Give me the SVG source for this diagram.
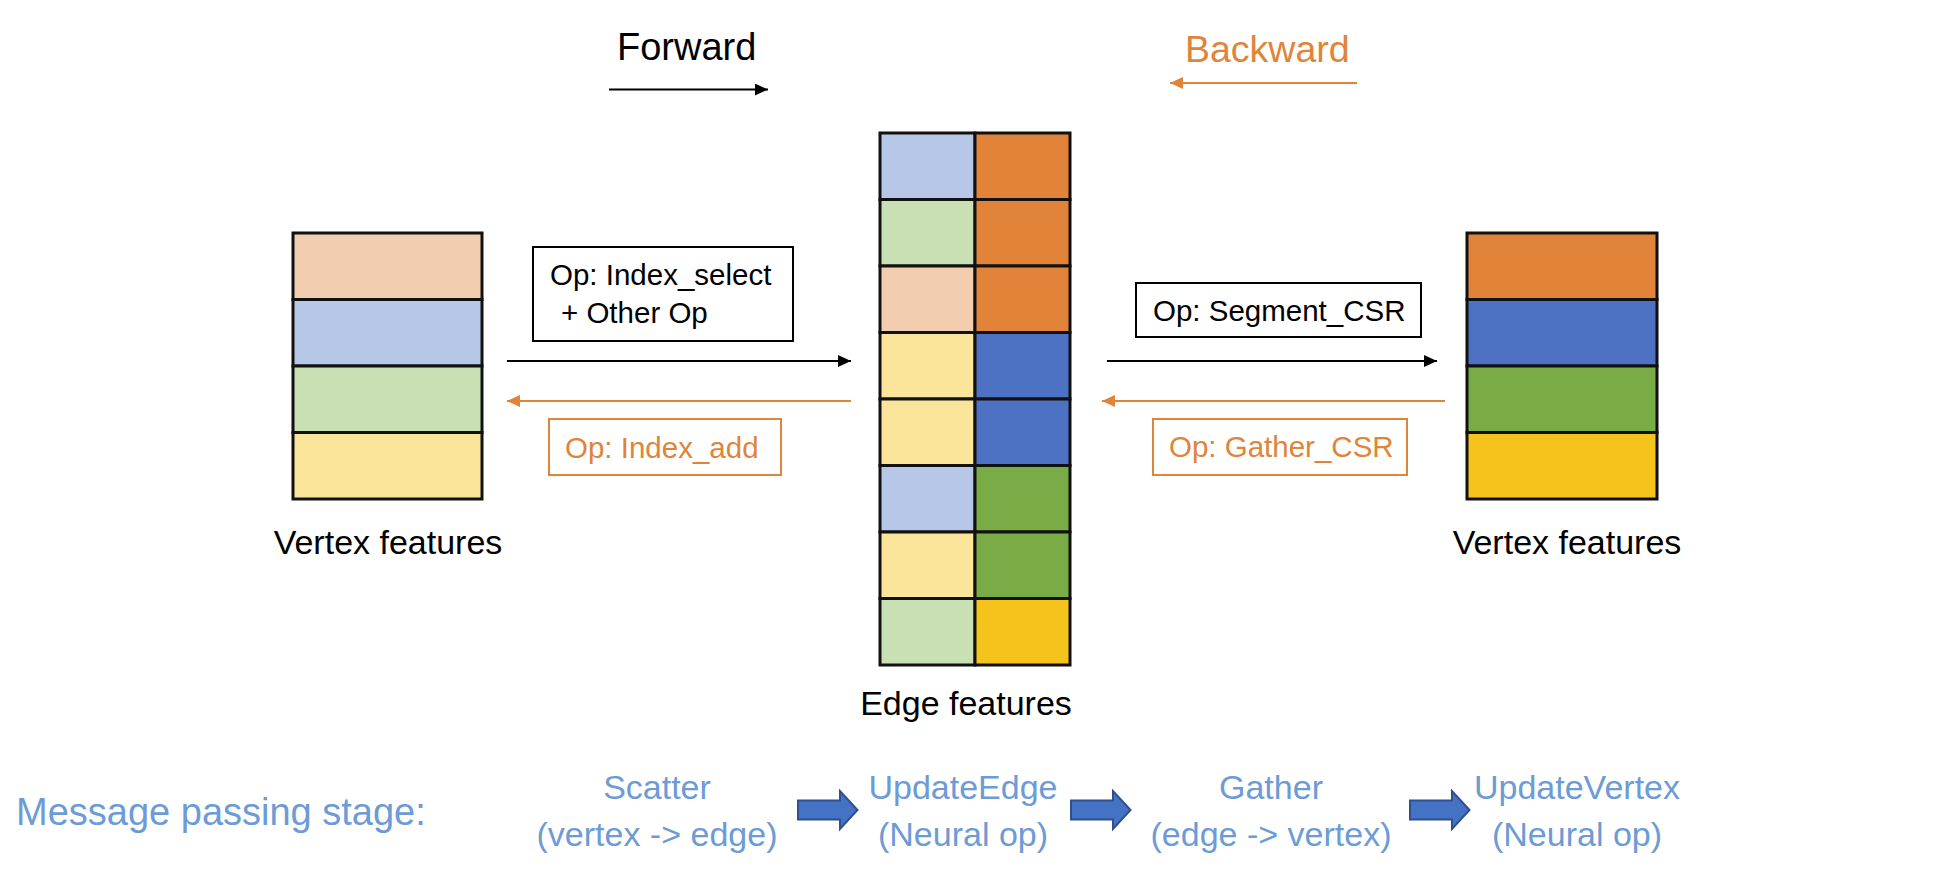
<svg xmlns="http://www.w3.org/2000/svg" width="1940" height="878" viewBox="0 0 1940 878">
<defs>
<style>
text{font-family:"Liberation Sans",Arial,sans-serif}
.cell{stroke:#111;stroke-width:3}
.box{fill:#fff;stroke:#000;stroke-width:2}
.obox{fill:#fff;stroke:#E0843A;stroke-width:2}
.lbl{font-size:34px;fill:#000;text-anchor:middle}
.op{font-size:29.5px;fill:#000}
.oop{font-size:29.5px;fill:#E0843A}
.stage{font-size:34px;fill:#6C9BD6;text-anchor:middle}
.blk{fill:#4472C4;stroke:#2F4F8F;stroke-width:2}
.pk{fill:#F2CDB0}.lb{fill:#B7C7E7}.lg{fill:#C9DFB4}.ly{fill:#FAE59A}
.do{fill:#E1843A}.db{fill:#4D71C3}.dg{fill:#79AB47}.dy{fill:#F5C41C}
</style>
<marker id="ah" viewBox="0 0 13 12" refX="13" refY="6" markerWidth="13" markerHeight="12" markerUnits="userSpaceOnUse" orient="auto">
<path d="M0,0 L13,6 L0,12 Z" fill="#000"/>
</marker>
<marker id="ahO" viewBox="0 0 13 12" refX="13" refY="6" markerWidth="13" markerHeight="12" markerUnits="userSpaceOnUse" orient="auto">
<path d="M0,0 L13,6 L0,12 Z" fill="#E0843A"/>
</marker>
<path id="bigArrow" d="M0,-9.5 H42 V-19 L59.5,0 L42,19 V9.5 H0 Z"/>
</defs>
<rect width="1940" height="878" fill="#fff"/>

<g id="legend">
<text x="617" y="60" style="font-size:38px;fill:#000">Forward</text>
<text x="1185" y="62" style="font-size:37.5px;fill:#E0843A">Backward</text>
</g>

<g id="connectors">
<line x1="609" y1="89.5" x2="768" y2="89.5" stroke="#000" stroke-width="2" marker-end="url(#ah)"/>
<line x1="1357" y1="83" x2="1170" y2="83" stroke="#E0843A" stroke-width="2" marker-end="url(#ahO)"/>
<line x1="507" y1="361" x2="851" y2="361" stroke="#000" stroke-width="2" marker-end="url(#ah)"/>
<line x1="851" y1="401" x2="507" y2="401" stroke="#E0843A" stroke-width="2" marker-end="url(#ahO)"/>
<line x1="1107" y1="361" x2="1437" y2="361" stroke="#000" stroke-width="2" marker-end="url(#ah)"/>
<line x1="1445" y1="401" x2="1102" y2="401" stroke="#E0843A" stroke-width="2" marker-end="url(#ahO)"/>
<use href="#bigArrow" class="blk" x="798" y="810"/>
<use href="#bigArrow" class="blk" x="1071" y="810"/>
<use href="#bigArrow" class="blk" x="1410" y="810"/>
</g>

<g id="left-vertex">
<rect class="cell pk" x="293" y="233" width="189" height="66.5"/>
<rect class="cell lb" x="293" y="299.5" width="189" height="66.5"/>
<rect class="cell lg" x="293" y="366" width="189" height="66.5"/>
<rect class="cell ly" x="293" y="432.5" width="189" height="66.5"/>
<text class="lbl" x="388" y="554">Vertex features</text>
</g>

<g id="edge-features">
<rect class="cell lb" x="880" y="133" width="95" height="66.5"/><rect class="cell do" x="975" y="133" width="95" height="66.5"/>
<rect class="cell lg" x="880" y="199.5" width="95" height="66.5"/><rect class="cell do" x="975" y="199.5" width="95" height="66.5"/>
<rect class="cell pk" x="880" y="266" width="95" height="66.5"/><rect class="cell do" x="975" y="266" width="95" height="66.5"/>
<rect class="cell ly" x="880" y="332.5" width="95" height="66.5"/><rect class="cell db" x="975" y="332.5" width="95" height="66.5"/>
<rect class="cell ly" x="880" y="399" width="95" height="66.5"/><rect class="cell db" x="975" y="399" width="95" height="66.5"/>
<rect class="cell lb" x="880" y="465.5" width="95" height="66.5"/><rect class="cell dg" x="975" y="465.5" width="95" height="66.5"/>
<rect class="cell ly" x="880" y="532" width="95" height="66.5"/><rect class="cell dg" x="975" y="532" width="95" height="66.5"/>
<rect class="cell lg" x="880" y="598.5" width="95" height="66.5"/><rect class="cell dy" x="975" y="598.5" width="95" height="66.5"/>
<text class="lbl" x="966" y="715">Edge features</text>
</g>

<g id="right-vertex">
<rect class="cell do" x="1467" y="233" width="190" height="66.5"/>
<rect class="cell db" x="1467" y="299.5" width="190" height="66.5"/>
<rect class="cell dg" x="1467" y="366" width="190" height="66.5"/>
<rect class="cell dy" x="1467" y="432.5" width="190" height="66.5"/>
<text class="lbl" x="1567" y="554">Vertex features</text>
</g>

<g id="op-index-select">
<rect class="box" x="533" y="247" width="260" height="94"/>
<text class="op" x="550" y="285">Op: Index_select</text>
<text class="op" x="561" y="323">+ Other Op</text>
</g>

<g id="op-index-add">
<rect class="obox" x="549" y="419" width="232" height="56"/>
<text class="oop" x="565" y="458">Op: Index_add</text>
</g>

<g id="op-segment-csr">
<rect class="box" x="1136" y="283" width="285" height="54"/>
<text class="op" x="1153" y="321">Op: Segment_CSR</text>
</g>

<g id="op-gather-csr">
<rect class="obox" x="1153" y="419" width="254" height="56"/>
<text class="oop" x="1169" y="457">Op: Gather_CSR</text>
</g>

<g id="stages">
<text x="16" y="825" style="font-size:38px;fill:#6C9BD6">Message passing stage:</text>
<text class="stage" x="657" y="799">Scatter</text>
<text class="stage" x="657" y="846">(vertex -&gt; edge)</text>
<text class="stage" x="963" y="799">UpdateEdge</text>
<text class="stage" x="963" y="846">(Neural op)</text>
<text class="stage" x="1271" y="799">Gather</text>
<text class="stage" x="1271" y="846">(edge -&gt; vertex)</text>
<text class="stage" x="1577" y="799">UpdateVertex</text>
<text class="stage" x="1577" y="846">(Neural op)</text>
</g>
</svg>
